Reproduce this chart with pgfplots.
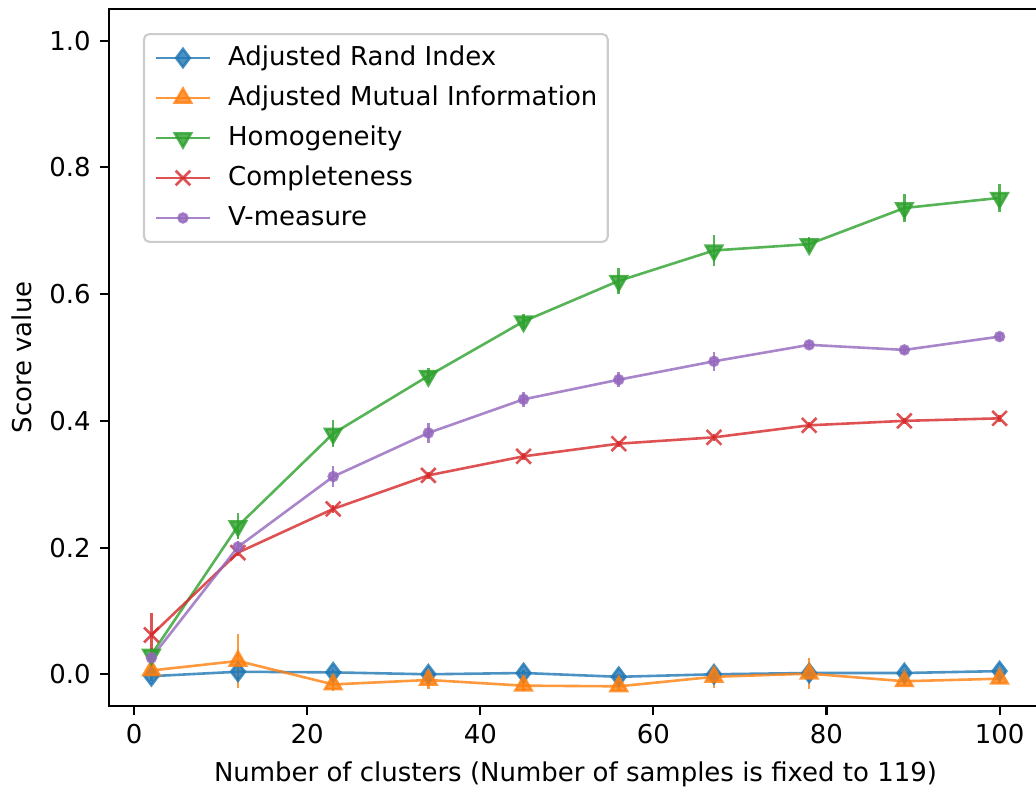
\documentclass[border=0pt]{standalone}
\usepackage{fontspec}
\setmainfont{DejaVu Sans}
\usepackage{pgfplots}
\usepackage{pgfplotstable}
\pgfplotsset{compat=1.18}

\definecolor{C0}{HTML}{1F77B4}
\definecolor{C1}{HTML}{FF7F0E}
\definecolor{C2}{HTML}{2CA02C}
\definecolor{C3}{HTML}{D62728}
\definecolor{C4}{HTML}{9467BD}

% mean score and standard deviation over the random labelings
\pgfplotstableread{
n   ari    arie   ami    amie   hom    home   com    come   vm     vme
2   -0.003 0.008  0.006  0.010  0.031  0.010  0.062  0.035  0.026  0.010
12  0.004  0.012  0.021  0.042  0.234  0.020  0.192  0.006  0.201  0.010
23  0.003  0.006  -0.016 0.010  0.380  0.022  0.261  0.006  0.312  0.017
34  0.000  0.005  -0.009 0.015  0.471  0.012  0.314  0.005  0.381  0.016
45  0.002  0.005  -0.018 0.008  0.557  0.012  0.344  0.005  0.434  0.012
56  -0.004 0.004  -0.019 0.008  0.621  0.020  0.364  0.005  0.465  0.012
67  0.000  0.010  -0.004 0.018  0.669  0.024  0.374  0.005  0.494  0.015
78  0.002  0.004  0.001  0.025  0.679  0.012  0.393  0.005  0.520  0.006
89  0.002  0.004  -0.011 0.008  0.736  0.022  0.400  0.005  0.512  0.006
100 0.005  0.004  -0.007 0.008  0.752  0.022  0.404  0.005  0.533  0.006
}\scores

\newcommand{\tenpt}{\fontsize{10}{12}\selectfont}

\begin{document}
\begin{tikzpicture}
\begin{axis}[
  at={(0,0)}, anchor=south west,
  scale only axis, width=359.2pt, height=268.3pt,
  xmin=-2.9, xmax=104.9, ymin=-0.05, ymax=1.05,
  xtick={0,20,40,60,80,100},
  ytick={0,0.2,0.4,0.6,0.8,1.0},
  yticklabel style={/pgf/number format/.cd, fixed, fixed zerofill, precision=1},
  /pgf/number format/assume math mode=true,
  tick pos=left, tick align=outside, major tick length=3.5pt,
  every tick/.style={black, line width=0.8pt},
  axis line style={line width=0.8pt},
  tick label style={font=\tenpt},
  label style={font=\tenpt},
  xlabel={Number of clusters (Number of samples is fixed to 119)},
  ylabel={Score value},
  every axis plot/.append style={line width=1pt, opacity=0.8},
  error bars/y dir=both, error bars/y explicit,
  error bars/error mark=none,
  error bars/error bar style={line width=1pt},
  legend cell align=left,
  legend image code/.code={
    \draw[mark repeat=2, mark phase=2] plot coordinates {(0pt,0pt) (10.5pt,0pt) (21pt,0pt)};
  },
  legend style={
    at={(0.0364,0.9656)}, anchor=north west,
    draw=black!20, line width=0.8pt, rounded corners=2pt,
    fill=white, fill opacity=0.8, text opacity=1,
    font=\tenpt, inner xsep=4pt, inner ysep=4.4pt,
    row sep=5.8pt, column sep=6.4pt,
    nodes={inner sep=0pt, text height=7.6pt, text depth=2.0pt},
  },
]
\addplot+[C0, mark=diamond*, mark size=3.5pt, mark options={fill=C0, draw=C0}]
  table[x=n, y=ari, y error=arie] {\scores};
\addlegendentry{Adjusted Rand Index}
\addplot+[C1, mark=triangle*, mark size=3.6pt, mark options={fill=C1, draw=C1}]
  table[x=n, y=ami, y error=amie] {\scores};
\addlegendentry{Adjusted Mutual Information}
\addplot+[C2, mark=triangle*, mark size=3.6pt, mark options={fill=C2, draw=C2, rotate=180}]
  table[x=n, y=hom, y error=home] {\scores};
\addlegendentry{Homogeneity}
\addplot+[C3, mark=x, mark size=4pt, mark options={draw=C3}]
  table[x=n, y=com, y error=come] {\scores};
\addlegendentry{Completeness}
\addplot+[C4, mark=*, mark size=1.7pt, mark options={fill=C4, draw=C4}]
  table[x=n, y=vm, y error=vme] {\scores};
\addlegendentry{V-measure}
\end{axis}
\pgfresetboundingbox
\useasboundingbox (-41.97pt,-32.7pt) rectangle (356.9pt,271.8pt);
\end{tikzpicture}
\end{document}
